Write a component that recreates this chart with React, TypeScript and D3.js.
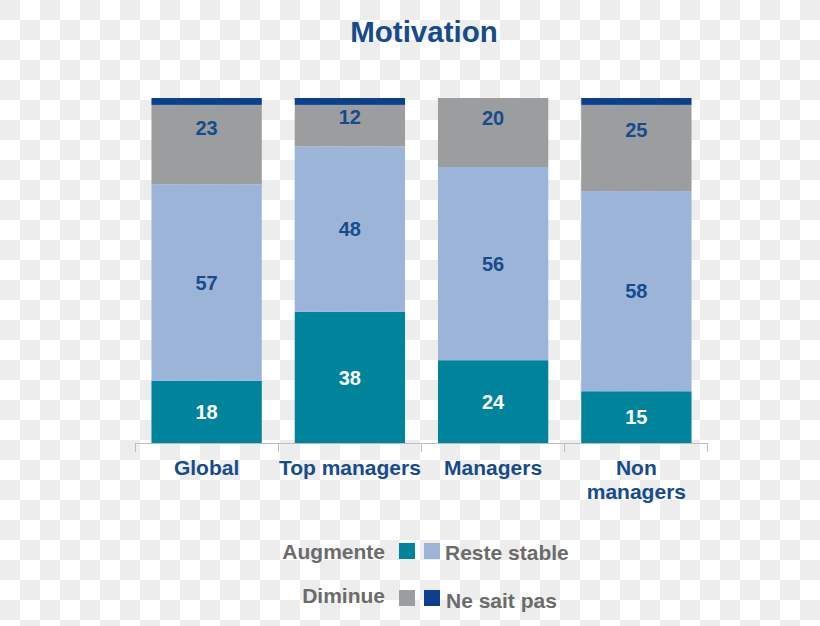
import React from "react";
import * as d3 from "d3";

const categories = ["Global", "Top managers", "Managers", "Non managers"];
const augmente = [18, 38, 24, 15];
const resteStable = [57, 48, 56, 58];
const diminue = [23, 12, 20, 25];
const neSaitPas = [2, 2, 0, 2];
const seriesNames = ["Augmente", "Reste stable", "Diminue", "Ne sait pas"];
const colors = ["#00849c", "#9db4d9", "#9c9d9f", "#0c3f8c"];
const labelColors = ["#ffffff", "#164b8c", "#164b8c", "#164b8c"];

const W = 820;
const H = 626;

export default function App() {
  const x = d3.scaleBand<string>().domain(categories).range([135, 708]).paddingInner(0.23).paddingOuter(0.115);
  const y = d3.scaleLinear().domain([0, 100]).range([443, 98]);
  const rows = categories.map((c, i) => ({
    cat: c,
    s0: augmente[i],
    s1: resteStable[i],
    s2: diminue[i],
    s3: neSaitPas[i],
  }));
  const stack = d3.stack<any>().keys(["s0", "s1", "s2", "s3"])(rows);

  const checks: JSX.Element[] = [];
  for (let i = 0; i < W / 20; i++) {
    for (let j = 0; j < Math.ceil(H / 20); j++) {
      if ((i + j) % 2 === 0) checks.push(<rect key={`c${i}-${j}`} x={i * 20} y={j * 20} width={20} height={20} fill="#ededed" />);
    }
  }
  const step = 143;
  const ticks = d3.range(categories.length + 1).map((k) => 135 + k * step);
  const font = "Liberation Sans, Arial, sans-serif";

  return (
    <svg width={W} height={H} style={{ position: "absolute", left: 0, top: 0 }} fontFamily={font}>
      <rect width={W} height={H} fill="#ffffff" />
      {checks}
      <text x={424} y={42} textAnchor="middle" fontSize={29.5} fontWeight="bold" fill="#164b8c">Motivation</text>
      {stack.map((layer, si) =>
        layer.map((d, ci) => {
          const x0 = x(categories[ci])!;
          const top = y(d[1]);
          const bot = y(d[0]);
          const h = bot - top;
          if (h <= 0) return null;
          const val = d[1] - d[0];
          const cx = x0 + x.bandwidth() / 2;
          const ly = si === 2 ? top + h * 0.29 : top + h / 2;
          return (
            <g key={`b${si}-${ci}`}>
              <rect x={x0} y={top} width={x.bandwidth()} height={h} fill={colors[si]} />
              {si < 3 && (
                <text x={cx} y={ly} dy="0.36em" textAnchor="middle" fontSize={20} fontWeight="bold" fill={labelColors[si]}>{val}</text>
              )}
            </g>
          );
        })
      )}
      <line x1={135} x2={708} y1={443.5} y2={443.5} stroke="#bdbdbd" strokeWidth={1} />
      {ticks.map((t) => (
        <line key={`t${t}`} x1={t + 0.5} x2={t + 0.5} y1={443} y2={452} stroke="#bdbdbd" strokeWidth={1} />
      ))}
      {categories.map((c) => {
        const cx = x(c)! + x.bandwidth() / 2;
        const lines = c === "Non managers" ? ["Non", "managers"] : [c];
        return (
          <text key={`l${c}`} x={cx} y={475} textAnchor="middle" fontSize={21} fontWeight="bold" fill="#164b8c">
            {lines.map((ln, k) => (
              <tspan key={k} x={cx} dy={k === 0 ? 0 : 24}>{ln}</tspan>
            ))}
          </text>
        );
      })}
      {/* legend */}
      <text x={385} y={559} textAnchor="end" fontSize={21} fontWeight="bold" fill="#6b6b6b">{seriesNames[0]}</text>
      <rect x={399} y={543} width={16} height={16} fill={colors[0]} />
      <rect x={424} y={543} width={16} height={16} fill={colors[1]} />
      <text x={445} y={560} fontSize={21} fontWeight="bold" fill="#6b6b6b">{seriesNames[1]}</text>
      <text x={385} y={603} textAnchor="end" fontSize={21} fontWeight="bold" fill="#6b6b6b">{seriesNames[2]}</text>
      <rect x={399} y={590} width={16} height={16} fill={colors[2]} />
      <rect x={424} y={590} width={16} height={16} fill={colors[3]} />
      <text x={446} y={608} fontSize={21} fontWeight="bold" fill="#6b6b6b">{seriesNames[3]}</text>
    </svg>
  );
}
